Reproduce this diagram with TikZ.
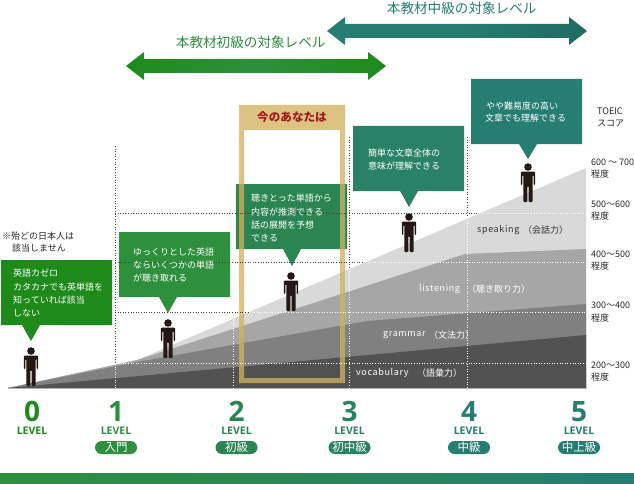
\documentclass[tikz,border=0pt]{standalone}
\usepackage{fontspec}
\setmainfont{Noto Sans CJK JP}
\newfontfamily\jpwide[LetterSpace=7]{Noto Sans CJK JP}
\newfontfamily\lvfont{Open Sans}
\usetikzlibrary{shadings,fadings}
\definecolor{cA}{HTML}{1E8A1A}
\definecolor{cB}{HTML}{2E8F3D}
\definecolor{cC}{HTML}{2B8552}
\definecolor{cD}{HTML}{2A8266}
\definecolor{cE}{HTML}{267D72}
\definecolor{figc}{HTML}{231815}
\definecolor{framec}{HTML}{D1B15D}
\tikzset{
  x=1pt,y=-1pt,
  txt/.style={inner sep=0pt,anchor=west,font=\fontsize{9}{9}\selectfont,text=#1},
  txt/.default=white,
  dotd/.style={line width=0.8pt,dash pattern=on 1pt off 1.6pt,color=#1},
  pill/.style={rounded corners=6.5pt,fill=#1,minimum width=42pt,minimum height=13pt,inner sep=0pt,text=white,font=\fontsize{11.5}{11.5}\selectfont},
  lvnum/.style={inner sep=0pt,text=#1,font=\lvfont\bfseries\fontsize{28}{28}\selectfont},
  lvtxt/.style={inner sep=0pt,text=#1,font=\lvfont\bfseries\fontsize{10.5}{10.5}\selectfont},
  ttl/.style={inner sep=0pt,text=#1,font=\fontsize{13.6}{14}\selectfont},
}
% #1 centre x, #2 head centre y
\newcommand{\person}[2]{%
  \fill[figc] (#1,#2) circle (3.8);
  \fill[figc,rounded corners=1pt] (#1-7.2,#2+4.5) -- (#1+7.2,#2+4.5) -- (#1+7.2,#2+18) -- (#1+5.6,#2+18) -- (#1+5.6,#2+8) -- (#1+4.6,#2+8) -- (#1+4.6,#2+35) -- (#1+0.6,#2+35) -- (#1+0.6,#2+19) -- (#1-0.6,#2+19) -- (#1-0.6,#2+35) -- (#1-4.6,#2+35) -- (#1-4.6,#2+8) -- (#1-5.6,#2+8) -- (#1-5.6,#2+18) -- (#1-7.2,#2+18) -- cycle;
}
% #1 left, #2 top, #3 right, #4 bottom, #5 centre x of the pointer, #6 colour, #7 tip y
\newcommand{\bubble}[7]{%
  \fill[#6] (#1,#2) -- (#3,#2) -- (#3,#4) -- (#5+9,#4) -- (#5,#7) -- (#5-9,#4) -- (#1,#4) -- cycle;
}
\begin{document}
\begin{tikzpicture}
\useasboundingbox (0,0) rectangle (634,484);
\fill[white] (0,0) rectangle (634,484);
% bottom band
\shade[left color=cB,right color=cE] (0,473) rectangle (634,484);
% arrows
\shade[left color=cA,right color=cA,middle color=cB]
  (126,66) -- (144,52) -- (144,59) -- (368,59) -- (368,52) -- (386,66) -- (368,80) -- (368,73) -- (144,73) -- (144,80) -- cycle;
\shade[left color=cE,right color=cE!85!black,middle color=cE]
  (327,31) -- (345,17) -- (345,24) -- (569,24) -- (569,17) -- (587,31) -- (569,45) -- (569,38) -- (345,38) -- (345,45) -- cycle;
\node[ttl=cB] (t1) at (250.7,42) {本教材初級の対象レベル};
\node[ttl=cE] (t2) at (461.7,8) {本教材中級の対象レベル};
% chart layers
\fill[gray!40] (8,388.5) rectangle (586.5,387);
\fill[white!85!black] (8,388) -- (137,360) -- (586,168) -- (586,388) -- cycle;
\fill[black!35] (8,388) -- (137,360) -- (465,254) -- (586,249) -- (586,388) -- cycle;
\fill[black!50] (8,388) -- (137,362) -- (367,321) -- (586,304) -- (586,388) -- cycle;
\fill[black!68] (8,388) -- (586,335) -- (586,388) -- cycle;
% people
\person{31}{351}
\person{168}{323}
\person{291}{276}
\person{409}{217}
\person{528}{167}
% bubbles
\bubble{1}{260}{112}{325}{31}{cA}{341}
\bubble{119}{232}{230}{297}{168}{cB}{313}
\bubble{236}{184}{347}{249}{292}{cC}{266}
\bubble{353}{126}{464}{191}{409}{cD}{207}
\bubble{471}{79}{582}{144}{528}{cE}{159}
% frame, over the bubble it crosses
\fill[framec,fill opacity=.76,even odd rule] (239,105) rectangle (345,383) (244,130) rectangle (340,378);
\node[inner sep=0pt,text={rgb,255:red,160;green,26;blue,26},font=\fontsize{11.6}{12}\selectfont\bfseries] (now) at (292,117.5) {今のあなたは};
% dotted grid, dark outside the grey area
\draw[dotd=black!75] (115,146) -- (115,364);
\draw[dotd=black!75] (349,137) -- (349,268);
\draw[dotd=black!75] (467.5,137) -- (467.5,218);
\draw[dotd=black!75] (115,213) -- (479,213);
\draw[dotd=black!75] (115,262.5) -- (365,262.5);
\draw[dotd=black!75] (115,312) -- (249,312);
\draw[dotd=white] (115,363.5) -- (586,363.5);
\draw[dotd=white] (249,312) -- (586,312);
\draw[dotd=white] (365,262.5) -- (586,262.5);
\draw[dotd=white] (479,213) -- (586,213);
\draw[dotd=white] (115,364) -- (115,388);
\draw[dotd=white] (233.5,320) -- (233.5,388);
\draw[dotd=white] (349,268) -- (349,388);
\draw[dotd=white] (467.5,218) -- (467.5,388);
% bubble texts
\node[txt] (b01) at (13,273) {英語カゼロ};
\node[txt] (b02) at (13,287) {カタカナでも英単語を};
\node[txt] (b03) at (13,300) {知っていれば該当};
\node[txt] (b04) at (13,313) {しない};
\node[txt] (b11) at (133,252) {ゆっくりとした英語};
\node[txt] (b12) at (133,265) {ならいくつかの単語};
\node[txt] (b13) at (133,278) {が聴き取れる};
\node[txt] (b21) at (251,198) {聴きとった単語から};
\node[txt] (b22) at (251,212) {内容が推測できる};
\node[txt] (b23) at (251,225) {話の展開を予想};
\node[txt] (b24) at (251,238) {できる};
\node[txt] (b31) at (368,153) {簡単な文章全体の};
\node[txt] (b32) at (368,166) {意味が理解できる};
\node[txt] (b41) at (486,106) {やや難易度の高い};
\node[txt] (b42) at (485,118) {文章でも理解できる};
\node[txt=black!85] (n1) at (2,236) {※殆どの日本人は};
\node[txt=black!85] (n2) at (12,248) {該当しません};
% area labels
\node[txt=black!80] (s1) at (477,230) {\jpwide speaking}; \node[txt=black!80] (s2) at (523,230) {（会話力）};
\node[txt] (l1) at (419,289) {\jpwide listening}; \node[txt] (l2) at (467,289) {（聴き取り力）};
\node[txt] (g1) at (383,335) {\jpwide grammar}; \node[txt] (g2) at (429,335) {（文法力）};
\node[txt] (v1) at (356,373) {\jpwide vocabulary}; \node[txt] (v2) at (417,373) {（語彙力）};
% score labels
\node[txt=black!85] (r0a) at (597,111) {TOEIC};
\node[txt=black!85] (r0b) at (597,123) {スコア};
\node[txt=black!85] (r1a) at (591,162) {600 ～ 700};
\node[txt=black!85] (r1b) at (591,174) {程度};
\node[txt=black!85] (r2a) at (591,204) {500～600};
\node[txt=black!85] (r2b) at (591,216) {程度};
\node[txt=black!85] (r3a) at (591,254) {400～500};
\node[txt=black!85] (r3b) at (591,266) {程度};
\node[txt=black!85] (r4a) at (591,305) {300～400};
\node[txt=black!85] (r4b) at (591,318) {程度};
\node[txt=black!85] (r5a) at (591,365) {200～300};
\node[txt=black!85] (r5b) at (591,377) {程度};
% levels
\node[lvnum=cA] (n0) at (32,411.5) {0};
\node[lvtxt=cA] (w0) at (32,431) {LEVEL};
\node[lvnum=cB] (n1x) at (116,411.5) {1};
\node[lvtxt=cB] (w1) at (116,431) {LEVEL};
\node[pill=cB] (p1) at (116,447.5) {入門};
\node[lvnum=cC] (n2x) at (236.5,411.5) {2};
\node[lvtxt=cC] (w2) at (236.5,431) {LEVEL};
\node[pill=cC] (p2) at (236.5,447.5) {初級};
\node[lvnum=cD] (n3x) at (349.5,411.5) {3};
\node[lvtxt=cD] (w3) at (349.5,431) {LEVEL};
\node[pill=cD] (p3) at (349.5,447.5) {初中級};
\node[lvnum=cE] (n4x) at (469,411.5) {4};
\node[lvtxt=cE] (w4) at (469,431) {LEVEL};
\node[pill=cE] (p4) at (469,447.5) {中級};
\node[lvnum=cE] (n5x) at (579,411.5) {5};
\node[lvtxt=cE] (w5) at (579,431) {LEVEL};
\node[pill=cE] (p5) at (579,447.5) {中上級};
\end{tikzpicture}
\end{document}
